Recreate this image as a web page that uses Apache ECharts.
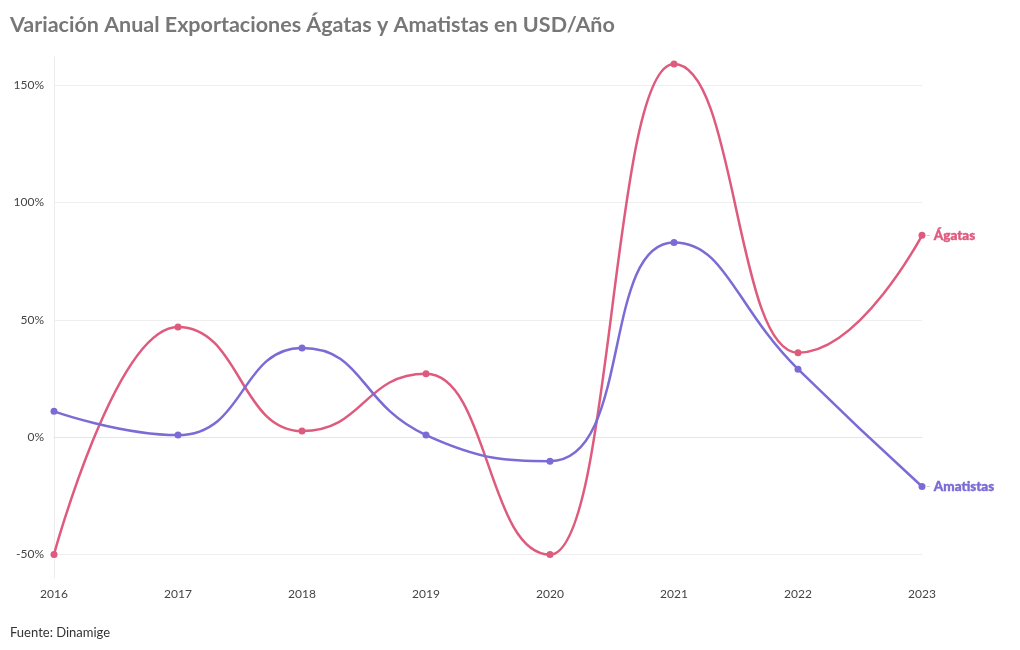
<!DOCTYPE html>
<html><head><meta charset="utf-8">
<script src="https://cdn.jsdelivr.net/npm/echarts@6/dist/echarts.min.js"></script>
<style>html,body{margin:0;padding:0;background:#fff}#c{width:1020px;height:650px}</style>
</head><body><div id="c"></div>
<script>
const years = ['2016','2017','2018','2019','2020','2021','2022','2023'];
const agatas = [-50, 47, 2.6, 27, -50, 159, 36, 86];
const amatistas = [11, 0.9, 38, 0.9, -10.2, 83, 29, -21];
const yTicks = [-50, 0, 50, 100, 150];
const titleText = 'Variación Anual Exportaciones Ágatas y Amatistas en USD/Año';
const sourceText = 'Fuente: Dinamige';
const colA = '#df5b7e', colB = '#7b6bd5';
const FONT = 'Lato, "Open Sans", sans-serif';

const chart = echarts.init(document.getElementById('c'), null, {renderer:'canvas'});
function endLbl(name, col){
  return {show:true, distance:4,
    formatter: function(){ return '{d|-} {n|' + name + '}'; },
    rich:{d:{color:'#c8c8c8', fontSize:12, fontFamily:FONT},
          n:{color:col, fontSize:13.5, fontWeight:900, fontFamily:FONT, textBorderColor:col, textBorderWidth:0.4}}};
}
chart.setOption({
  animation:false,
  title:[{text:titleText, left:5, top:9, textStyle:{fontFamily:FONT, fontSize:21.5, fontWeight:'bold', color:'#777'}},
         {text:sourceText, left:5, top:621, textStyle:{fontFamily:FONT, fontSize:13, fontWeight:'normal', color:'#333'}}],
  grid:{left:54, right:98, top:57, bottom:72, containLabel:false},
  xAxis:{type:'category', data:years, boundaryGap:false,
    axisLine:{lineStyle:{color:'#e6e6e6'}}, axisTick:{show:false},
    axisLabel:{color:'#444', fontSize:12, fontFamily:FONT, margin:10}},
  yAxis:{type:'value', min:-60, max:162,
    axisLine:{show:true, lineStyle:{color:'#ececec'}}, axisTick:{show:false, customValues:yTicks},
    axisLabel:{customValues:yTicks, color:'#444', fontSize:12, fontFamily:FONT, margin:10, formatter:v=>v+'%'},
    splitLine:{show:true, lineStyle:{color:'#eeeeee'}}},
  series:[
    {name:'Ágatas', type:'line', data:agatas, smooth:0.5, smoothMonotone:'x', symbol:'circle', symbolSize:7,
     lineStyle:{color:colA, width:2.5}, itemStyle:{color:colA}, endLabel:endLbl('Ágatas', colA)},
    {name:'Amatistas', type:'line', data:amatistas, smooth:0.5, symbol:'circle', symbolSize:7,
     lineStyle:{color:colB, width:2.5}, itemStyle:{color:colB}, endLabel:endLbl('Amatistas', colB)}
  ]
});
</script></body></html>
